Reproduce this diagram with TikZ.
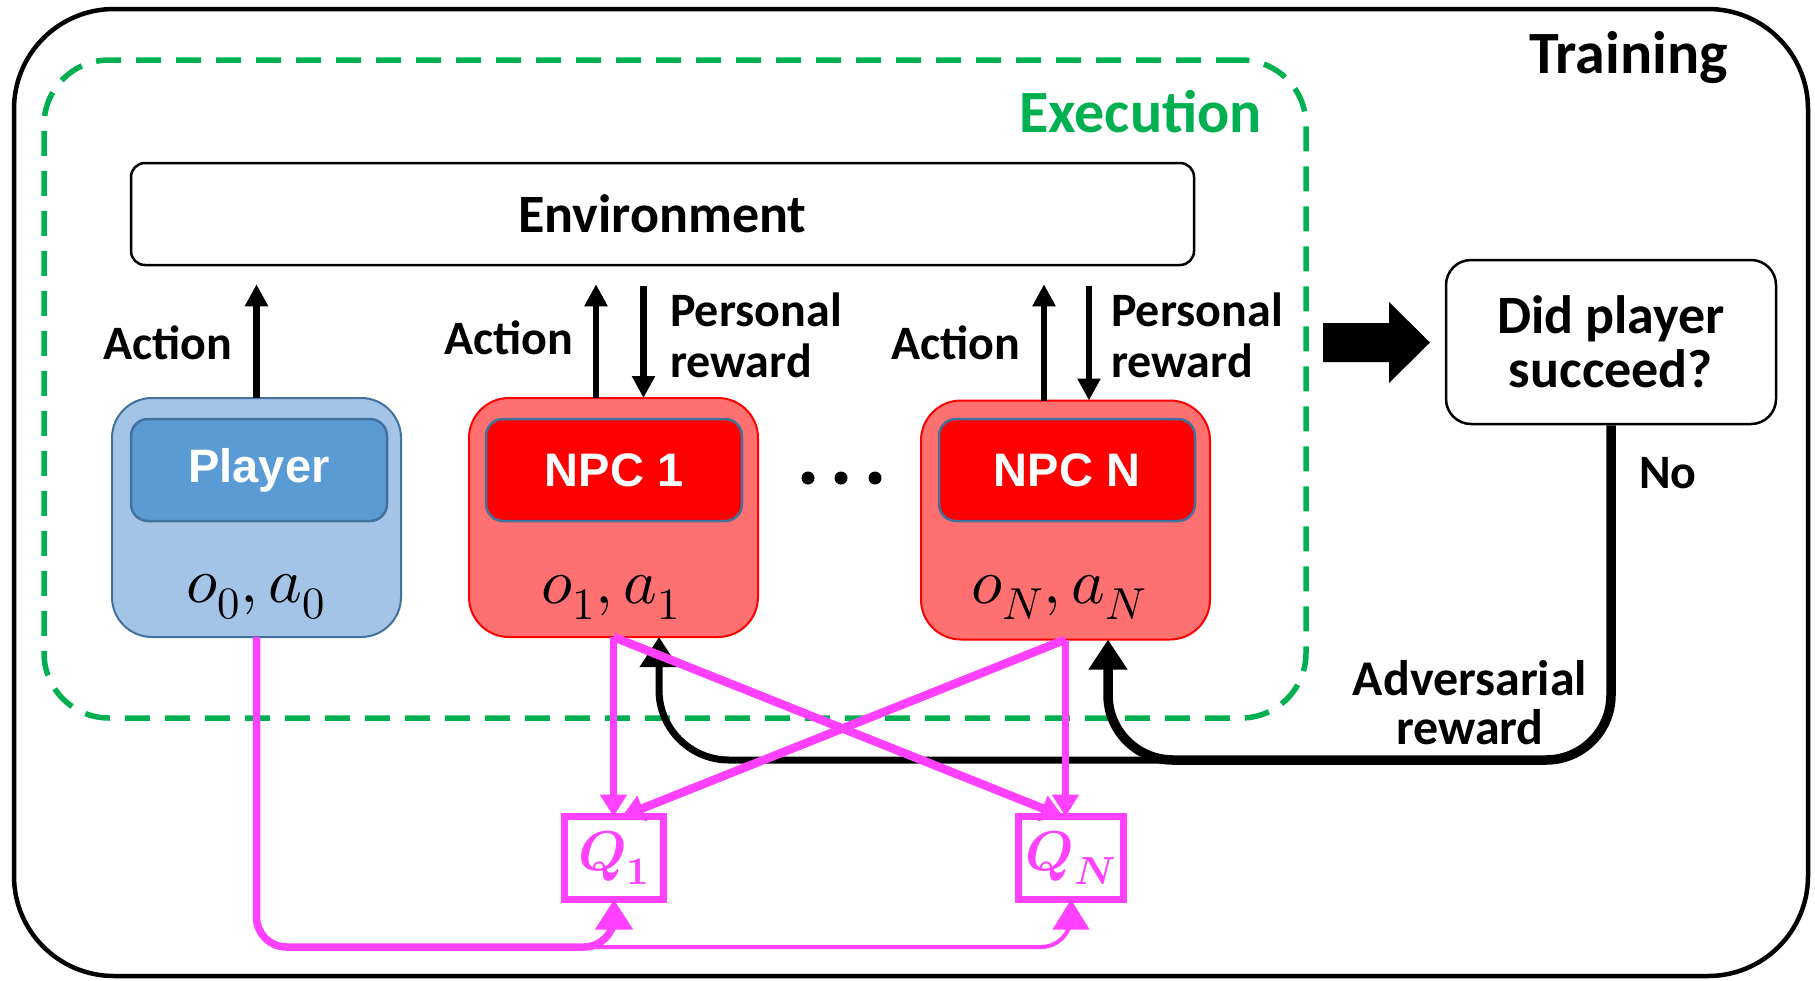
\documentclass[tikz,border=0pt]{standalone}
\usepackage{fontspec}
\usepackage{unicode-math}
\setmainfont{Carlito}
\setmathfont{Latin Modern Math}
\newfontfamily\arialf{Liberation Sans}
\usetikzlibrary{arrows.meta,calc}
\definecolor{exgreen}{HTML}{00B050}
\definecolor{mag}{HTML}{FF40FF}
\definecolor{plout}{HTML}{A3C4E6}
\definecolor{plin}{HTML}{5B9BD5}
\definecolor{bord}{HTML}{41719C}
\definecolor{npcout}{HTML}{FF7171}
\definecolor{npcin}{HTML}{FF0000}
\begin{document}
\begin{tikzpicture}[x=1pt,y=-1pt,
  lbl/.style={font=\fontsize{48}{51}\selectfont\bfseries, inner sep=0pt, align=left},
  outerbox/.style={line width=2pt, rounded corners=40pt, inner sep=0pt, outer sep=0pt, minimum width=289pt, minimum height=239pt},
  innerbox/.style={draw=bord, line width=2.5pt, rounded corners=17pt, inner sep=0pt, outer sep=0pt, minimum width=256pt, minimum height=102pt, text=white, font=\arialf\bfseries\fontsize{47}{47}\selectfont},
  mathlbl/.style={inner sep=0pt, font=\fontsize{64}{64}\selectfont},
  actarrow/.style={line width=6.5pt, -{Triangle[length=22pt,width=22pt]}},
  advtip/.style={-{Triangle[length=30pt,width=37pt]}},
  qbox/.style={draw=mag, line width=7pt, inner sep=0pt, outer sep=0pt, minimum height=83pt, text=mag, font=\fontsize{56}{56}\selectfont},
  magtip/.style={-{Triangle[length=22pt,width=26pt]}},
  magbig/.style={-{Triangle[length=30pt,width=36pt]}}
]
\useasboundingbox (0,0) rectangle (1815,980);

% frames
\node[draw, line width=4.5pt, rounded corners=100pt, minimum width=1794pt, minimum height=967pt, inner sep=0pt] (train) at (911,492.5) {};
\node[anchor=east, inner sep=0pt, font=\fontsize{60}{60}\selectfont\bfseries] (trainlbl) at (1728,58) {Training};
\node[draw=exgreen, line width=5.5pt, dash pattern=on 25pt off 15pt, rounded corners=65pt, minimum width=1262pt, minimum height=658pt, inner sep=0pt] (exec) at (675,389) {};
\node[anchor=east, inner sep=0pt, text=exgreen, font=\fontsize{60}{60}\selectfont\bfseries] (execlbl) at (1262,112) {Execution};

% environment
\node[draw, fill=white, line width=2.5pt, rounded corners=14pt, minimum width=1063pt, minimum height=102pt, inner sep=0pt, font=\fontsize{54}{54}\selectfont\bfseries] (env) at (662.5,214) {Environment};

% agents
\node[outerbox, draw=bord, fill=plout] (pl) at (256.5,517.5) {};
\node[innerbox, fill=plin] (plin) at (259,470) {Player};
\node[mathlbl] (plm) at (256,597) {$o_0,a_0$};

\node[outerbox, draw=npcin, fill=npcout] (n1) at (613.5,517.5) {};
\node[innerbox, fill=npcin] (n1in) at (614,470) {NPC 1};
\node[mathlbl] (n1m) at (611,597) {$o_1,a_1$};

\node[outerbox, draw=npcin, fill=npcout] (nN) at (1065.5,520) {};
\node[innerbox, fill=npcin] (nNin) at (1067,470) {NPC N};
\node[mathlbl] (nNm) at (1059,597) {$o_N,a_N$};

\fill (808,478) circle (6.5pt) (841,478) circle (6.5pt) (875,478) circle (6.5pt);

% action / reward arrows
\draw[actarrow, shorten >=18pt] (pl.north) -- (pl.north |- env.south);
\node[lbl] (a0) at (168,343) {Action};

\draw[actarrow, shorten >=18pt] ([xshift=-17.5pt]n1.north) -- ([xshift=-17.5pt]n1.north |- env.south);
\draw[actarrow, shorten <=20pt] ([xshift=30pt]n1.north |- env.south) -- ([xshift=30pt]n1.north);
\node[lbl] (a1) at (509,338) {Action};
\node[lbl, anchor=west] (r1) at (670,335) {Personal\\reward};

\draw[actarrow, shorten >=18pt] ([xshift=-21.5pt]nN.north) -- ([xshift=-21.5pt]nN.north |- env.south);
\draw[actarrow, shorten <=20pt] ([xshift=23.5pt]nN.north |- env.south) -- ([xshift=23.5pt]nN.north);
\node[lbl] (aN) at (956,343) {Action};
\node[lbl, anchor=west] (rN) at (1111,335) {Personal\\reward};

% decision box
\node[draw, fill=white, line width=2.5pt, rounded corners=25pt, minimum width=330pt, minimum height=164pt, inner sep=0pt, align=center, font=\fontsize{54}{54}\selectfont\bfseries] (did) at (1611,342) {Did player\\succeed?};
\fill (1323,323) -- (1389,323) -- (1389,302) -- (1430,342.5) -- (1389,383) -- (1389,362) -- (1323,362) -- cycle;

% adversarial reward
\coordinate (hb) at (0,760);
\coordinate (adN) at ($(nN.south)+(42.5,0)$);
\coordinate (ad1) at ($(n1.south)+(45.5,0)$);
\coordinate (hstart) at (1170,760);
\draw[line width=7pt, rounded corners=70pt, advtip] (hstart) -| (ad1);
\draw[line width=9.5pt, rounded corners=65pt, advtip] (did.south) |- (adN |- hb) -- (adN);
\node[lbl, anchor=center] (no) at (1668,473) {No};
\node[lbl, align=center, font=\fontsize{50}{49}\selectfont\bfseries] (advl) at (1470,703) {Adversarial\\reward};

% critics
\node[qbox, minimum width=99pt] (q1) at (614,858) {$\symbfit{Q}_{\symbf{1}}$};
\node[qbox, minimum width=105pt] (qN) at (1071,858) {$\symbfit{Q}_{\symbfit{N}}$};

\draw[mag, line width=7.5pt, magtip] (n1.south) -- (n1.south |- q1.north);
\draw[mag, line width=7.5pt, magtip] (nN.south) -- (nN.south |- qN.north);
\draw[mag, line width=8.5pt, magtip] (n1.south) -- ([xshift=-8pt]qN.north);
\draw[mag, line width=8.5pt, magtip] (nN.south) -- ([xshift=8pt]q1.north);

\coordinate (mb) at (0,947);
\draw[mag, line width=4pt, rounded corners=30pt, magbig] ([xshift=-35pt]mb -| q1.south) -- (mb -| qN.south) -- (qN.south);
\draw[mag, line width=7.5pt, rounded corners=30pt, magbig] (pl.south) -- (pl.south |- mb) -- (mb -| q1.south) -- (q1.south);
\end{tikzpicture}
\end{document}
